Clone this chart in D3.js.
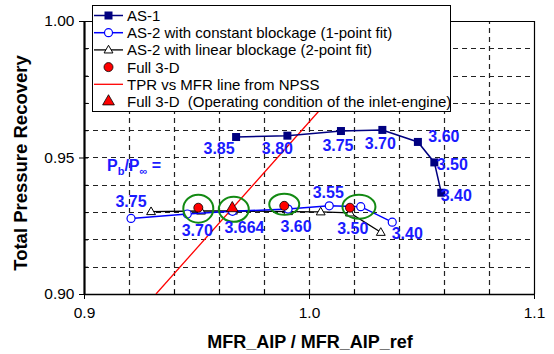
<!DOCTYPE html>
<html><head><meta charset="utf-8">
<script src="https://cdn.jsdelivr.net/npm/d3@7"></script>
<style>body{margin:0;background:#fff} svg{display:block;font-family:"Liberation Sans",Arial,Helvetica,sans-serif} text{white-space:pre}</style>
</head><body><svg id="c" width="554" height="354"></svg>
<script>
// AS-1 back-pressure sweep
const pbAS1  = [3.85, 3.80, 3.75, 3.70, 3.60, 3.50, 3.40];
const mfrAS1 = [0.9676, 0.9904, 1.0142, 1.0326, 1.0484, 1.0557, 1.0588];
const tprAS1 = [0.9575, 0.9580, 0.9597, 0.9601, 0.9557, 0.9482, 0.9371];

// AS-2, constant blockage (1-point fit)
const pbAS2   = [3.75, 3.70, 3.664, 3.60, 3.55, 3.50, 3.40];
const mfrAS2c = [0.9209, 0.9459, 0.9660, 0.9907, 1.0090, 1.0230, 1.0370];
const tprAS2c = [0.9277, 0.9293, 0.9303, 0.9311, 0.9323, 0.9320, 0.9263];

// AS-2, linear blockage (2-point fit)
const mfrAS2l = [0.9298, 0.9520, 0.9662, 0.9907, 1.0052, 1.0182, 1.0319];
const tprAS2l = [0.9302, 0.9304, 0.9304, 0.9302, 0.9301, 0.9297, 0.9226];

// Full 3-D solutions (Pb/P∞ = 3.70, 3.60, 3.50)
const pb3D  = [3.70, 3.60, 3.50];
const mfr3D = [0.9508, 0.9890, 1.0182];
const tpr3D = [0.9316, 0.9323, 0.9316];

// Full 3-D at the inlet-engine operating condition (Pb/P∞ = 3.664)
const mfrOp = [0.9659];
const tprOp = [0.9314];

// NPSS TPR vs MFR line
const mfrNPSS = [0.932, 1.040];
const tprNPSS = [0.900, 1.000];

const xTicks = [0.9, 1.0, 1.1];
const yTicks = [0.90, 0.95, 1.00];

const legendLabels = [
  "AS-1",
  "AS-2 with constant blockage (1-point fit)",
  "AS-2 with linear blockage (2-point fit)",
  "Full 3-D",
  "TPR vs MFR line from NPSS",
  "Full 3-D  (Operating condition of the inlet-engine)"
];

const svg = d3.select("#c");
const L = 84, R = 534, T = 21, B = 294;
const x = d3.scaleLinear().domain([0.9, 1.1]).range([L, R]);
const y = d3.scaleLinear().domain([0.90, 1.00]).range([B, T]);

const NAVY = "#000080", BLUE = "#0000ff", LBLUE = "#1a1aff", RED = "#ff0000", GREEN = "#138a13";

// grid
const gx = d3.range(0.92, 1.0801, 0.02);
const gy = d3.range(0.91, 0.9901, 0.01);
const grid = svg.append("g").attr("stroke", "#222").attr("stroke-width", 1.2).attr("stroke-dasharray", "5,4");
grid.selectAll("line.v").data(gx).join("line").attr("class","v")
  .attr("x1", d => Math.round(x(d)) + 0.5).attr("x2", d => Math.round(x(d)) + 0.5)
  .attr("y1", B).attr("y2", T);
grid.selectAll("line.h").data(gy).join("line").attr("class","h")
  .attr("y1", d => Math.round(y(d)) + 0.5).attr("y2", d => Math.round(y(d)) + 0.5)
  .attr("x1", L).attr("x2", R);

// frame (top/right)
svg.append("path").attr("d", `M${L},${T+0.5}H${R+0.5}V${B}`).attr("fill","none").attr("stroke","#000").attr("stroke-width",1.2);

// axes
const xAxis = svg.append("g").attr("transform", `translate(0,${B})`)
  .call(d3.axisBottom(x).tickValues(xTicks).tickFormat(d3.format(".1f")).tickSize(5).tickSizeOuter(0));
const xMinor = svg.append("g").attr("transform", `translate(0,${B})`)
  .call(d3.axisTop(x).tickValues(gx).tickFormat("").tickSize(4).tickSizeOuter(0));
const yAxis = svg.append("g").attr("transform", `translate(${L},0)`)
  .call(d3.axisLeft(y).tickValues(yTicks).tickFormat(d3.format(".2f")).tickSize(5).tickSizeOuter(0));
const yMinor = svg.append("g").attr("transform", `translate(${L},0)`)
  .call(d3.axisRight(y).tickValues(gy).tickFormat("").tickSize(4).tickSizeOuter(0));
xMinor.select(".domain").remove();
yMinor.select(".domain").remove();
[xAxis, yAxis, xMinor, yMinor].forEach(g => {
  g.selectAll("text").attr("font-family", "Liberation Sans, Arial, sans-serif").attr("font-size", 15.5).attr("fill", "#000");
  g.selectAll("line").attr("stroke", "#000");
});
xAxis.select(".domain").attr("stroke-width", 1.6);
yAxis.select(".domain").attr("stroke-width", 2.2);
xAxis.selectAll("text").attr("dy", "1.05em");
yAxis.selectAll("text").attr("dx", "-0.1em");

// axis titles
svg.append("text").attr("x", 310).attr("y", 348).attr("text-anchor", "middle")
  .attr("font-weight", "bold").attr("font-size", 18).text("MFR_AIP / MFR_AIP_ref");
svg.append("text").attr("transform", "translate(27,163) rotate(-90)").attr("text-anchor", "middle")
  .attr("font-weight", "bold").attr("font-size", 18.5).text("Total Pressure Recovery");

const plot = svg.append("g");
plot.append("clipPath").attr("id", "clip").append("rect").attr("x", L).attr("y", T).attr("width", R - L).attr("height", B - T);

const line = d3.line().x(d => x(d[0])).y(d => y(d[1]));
const pts = (xs, ys) => xs.map((v, i) => [v, ys[i]]);

// NPSS line
plot.append("path").datum(pts(mfrNPSS, tprNPSS)).attr("d", line).attr("clip-path", "url(#clip)")
  .attr("fill", "none").attr("stroke", RED).attr("stroke-width", 1.3);

// AS-1
const as1 = pts(mfrAS1, tprAS1);
plot.append("path").datum(as1).attr("d", line).attr("fill", "none").attr("stroke", NAVY).attr("stroke-width", 1.5);
plot.selectAll("rect.as1").data(as1).join("rect").attr("class", "as1")
  .attr("x", d => x(d[0]) - 4).attr("y", d => y(d[1]) - 4).attr("width", 8).attr("height", 8).attr("fill", NAVY);

// AS-2 linear blockage
const as2l = pts(mfrAS2l, tprAS2l);
const tri = d3.symbol().type(d3.symbolTriangle);
plot.append("path").datum(as2l).attr("d", line).attr("fill", "none").attr("stroke", "#000").attr("stroke-width", 1.3);
plot.selectAll("path.as2l").data(as2l).join("path").attr("class", "as2l")
  .attr("d", tri.size(34)).attr("transform", d => `translate(${x(d[0])},${y(d[1]) + 0.5})`)
  .attr("fill", "#fff").attr("stroke", "#000").attr("stroke-width", 1);

// AS-2 constant blockage
const as2c = pts(mfrAS2c, tprAS2c);
plot.append("path").datum(as2c).attr("d", line).attr("fill", "none").attr("stroke", BLUE).attr("stroke-width", 1.5);
plot.selectAll("circle.as2c").data(as2c).join("circle").attr("class", "as2c")
  .attr("cx", d => x(d[0])).attr("cy", d => y(d[1])).attr("r", 4)
  .attr("fill", "#fff").attr("stroke", BLUE).attr("stroke-width", 1.2);

// Full 3-D
const f3d = pts(mfr3D, tpr3D);
plot.selectAll("circle.f3d").data(f3d).join("circle").attr("class", "f3d")
  .attr("cx", d => x(d[0])).attr("cy", d => y(d[1])).attr("r", 4.5)
  .attr("fill", RED).attr("stroke", "#000").attr("stroke-width", 0.8);
const fop = pts(mfrOp, tprOp);
plot.selectAll("path.fop").data(fop).join("path").attr("class", "fop")
  .attr("d", d3.symbol().type(d3.symbolTriangle).size(60)).attr("transform", d => `translate(${x(d[0])},${y(d[1])})`)
  .attr("fill", RED).attr("stroke", "#000").attr("stroke-width", 0.8);

// green rings marking the 3-D comparison points
const rings = [
  {p: f3d[0], dx: 0, dy: 1, rx: 15, ry: 14},
  {p: fop[0], dx: 1.5, dy: 1, rx: 15, ry: 12.5},
  {p: f3d[1], dx: 0, dy: -1.5, rx: 15, ry: 10.5},
  {p: f3d[2], dx: 9, dy: -1, rx: 16.5, ry: 12}
];
plot.selectAll("ellipse").data(rings).join("ellipse")
  .attr("cx", d => x(d.p[0]) + d.dx).attr("cy", d => y(d.p[1]) + d.dy)
  .attr("rx", d => d.rx).attr("ry", d => d.ry)
  .attr("fill", "none").attr("stroke", GREEN).attr("stroke-width", 2);

// Pb/P∞ labels
const lbl = svg.append("g").attr("fill", LBLUE).attr("font-weight", "bold").attr("font-size", 16).attr("text-anchor", "middle");
const as1Off = [[-17, 11], [-10, 12], [-3, 14], [-2, 13], [26, -6], [18, 2], [15, 2]];
lbl.selectAll("text.a1").data(as1).join("text").attr("class", "a1")
  .attr("x", (d, i) => x(d[0]) + as1Off[i][0]).attr("y", (d, i) => y(d[1]) + as1Off[i][1] + 6)
  .text((d, i) => pbAS1[i].toFixed(2));
const as2Off = [[0, -17], [10, 16], [12, 16], [8, 17], [-1, -14], [-8, 21], [15, 11]];
lbl.selectAll("text.a2").data(as2c).join("text").attr("class", "a2")
  .attr("x", (d, i) => x(d[0]) + as2Off[i][0]).attr("y", (d, i) => y(d[1]) + as2Off[i][1] + 6)
  .text((d, i) => pbAS2[i] === 3.664 ? "3.664" : pbAS2[i].toFixed(2));

const pbt = svg.append("text").attr("x", 107).attr("y", 171).attr("fill", LBLUE).attr("font-weight", "bold").attr("font-size", 16);
pbt.append("tspan").text("P");
pbt.append("tspan").attr("font-size", 11).attr("dy", 4).text("b");
pbt.append("tspan").attr("dy", -4).text("/P");
pbt.append("tspan").attr("font-size", 11).attr("dy", 4).text("∞");
pbt.append("tspan").attr("dy", -4).text(" =");

// legend
const lg = svg.append("g");
lg.append("rect").attr("x", 92.5).attr("y", 5.5).attr("width", 358).attr("height", 106)
  .attr("fill", "#fff").attr("stroke", "#000").attr("stroke-width", 1);
const ly = i => 15.5 + i * 17.2;
const lx0 = 94, lx1 = 123, lxm = 108.5;
lg.selectAll("text").data(legendLabels).join("text")
  .attr("x", 127).attr("y", (d, i) => ly(i) + 5.5).attr("font-size", 15).attr("fill", "#000").text(d => d);
[[NAVY, 1.5], [BLUE, 1.5], ["#000", 1.3], null, [RED, 1.3], null].forEach((s, i) => {
  if (s) lg.append("line").attr("x1", lx0).attr("x2", lx1).attr("y1", ly(i)).attr("y2", ly(i)).attr("stroke", s[0]).attr("stroke-width", s[1]);
});
lg.append("rect").attr("x", lxm - 4).attr("y", ly(0) - 4).attr("width", 8).attr("height", 8).attr("fill", NAVY);
lg.append("circle").attr("cx", lxm).attr("cy", ly(1)).attr("r", 4).attr("fill", "#fff").attr("stroke", BLUE).attr("stroke-width", 1.2);
lg.append("path").attr("d", tri.size(34)).attr("transform", `translate(${lxm},${ly(2) + 0.5})`).attr("fill", "#fff").attr("stroke", "#000");
lg.append("circle").attr("cx", lxm).attr("cy", ly(3)).attr("r", 4.5).attr("fill", RED).attr("stroke", "#000").attr("stroke-width", 0.8);
lg.append("path").attr("d", d3.symbol().type(d3.symbolTriangle).size(60)).attr("transform", `translate(${lxm},${ly(5)})`).attr("fill", RED).attr("stroke", "#000").attr("stroke-width", 0.8);
</script></body></html>
